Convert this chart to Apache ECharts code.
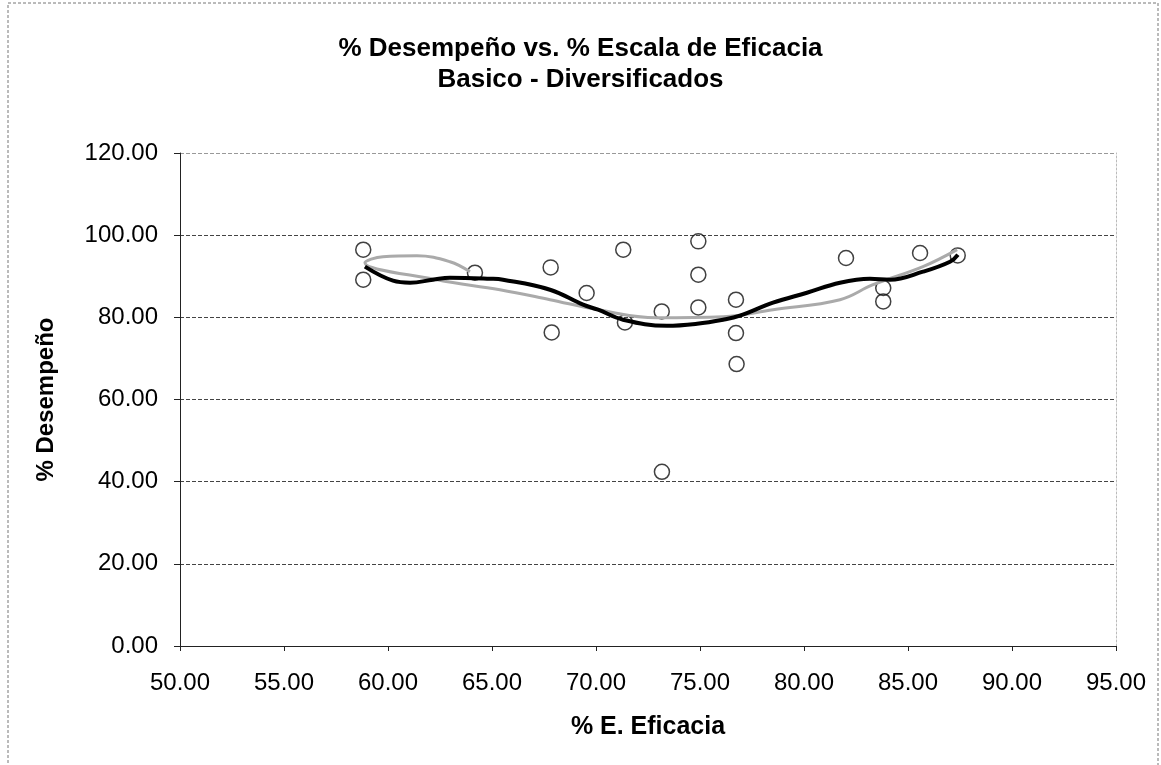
<!DOCTYPE html>
<html>
<head>
<meta charset="utf-8">
<script src="https://cdn.jsdelivr.net/npm/echarts@6/dist/echarts.min.js"></script>
<style>
html,body{margin:0;padding:0;background:#fff;}
#chart{width:1161px;height:765px;}
</style>
</head>
<body>
<div id="chart"></div>
<script>
// Scatter points: % E. Eficacia (x) vs % Desempeño (y)
const eficacia = [58.81, 58.81, 64.18, 67.82, 67.87, 69.55, 71.31, 71.39, 73.16, 73.17, 74.92, 74.92, 74.92, 76.73, 76.73, 76.76, 82.02, 83.81, 83.81, 85.58, 87.39];
const desempeno = [96.47, 89.16, 90.87, 92.16, 76.32, 85.92, 96.47, 78.76, 81.44, 42.4, 98.49, 90.38, 82.41, 84.29, 76.17, 68.62, 94.45, 87.14, 83.87, 95.66, 95.08];

// Black trend curve
const blackX = [58.89, 60.24, 61.06, 62.16, 62.98, 64.90, 65.53, 67.79, 69.38, 70.10, 71.30, 73.41, 74.86, 76.11, 76.92, 78.51, 80.14, 81.73, 83.17, 84.13, 85.72, 87.02, 87.40];
const blackY = [92.33, 88.92, 88.43, 89.16, 89.65, 89.40, 89.16, 86.72, 83.07, 81.85, 79.42, 77.95, 78.44, 79.42, 80.39, 83.56, 85.99, 88.43, 89.40, 89.16, 91.11, 93.54, 95.25];

// Grey trend curve (in drawn order)
const greyX = [63.94, 62.98, 61.39, 59.76, 58.89, 62.36, 65.38, 67.79, 70.10, 72.93, 76.11, 78.51, 81.73, 83.32, 85.72, 87.36];
const greyY = [91.11, 93.54, 95.00, 94.76, 93.30, 89.16, 86.72, 84.29, 81.85, 79.90, 80.15, 81.85, 84.29, 87.94, 92.33, 96.47];

const titleLines = ['% Desempeño vs. % Escala de Eficacia', 'Basico - Diversificados'];
const xName = '% E. Eficacia';
const yName = '% Desempeño';

const zip = (a, b) => a.map((v, i) => [v, b[i]]);
const FONT = '"Liberation Sans", Arial, sans-serif';

const chart = echarts.init(document.getElementById('chart'), null, {renderer: 'canvas'});
chart.setOption({
  backgroundColor: '#ffffff',
  animation: false,
  title: {
    text: titleLines.join('\n'),
    left: 'center',
    top: 28,
    textStyle: {fontFamily: FONT, fontSize: 26, fontWeight: 'bold', color: '#000', lineHeight: 31}
  },
  graphic: [{
    type: 'rect',
    shape: {x: 8, y: 3, width: 1150, height: 800},
    style: {fill: 'none', stroke: '#777', lineWidth: 1, lineDash: [3, 2]},
    silent: true
  }],
  grid: {left: 180, right: 45, top: 153, bottom: 119},
  xAxis: {
    type: 'value',
    min: 50, max: 95, interval: 5,
    name: xName,
    nameLocation: 'middle',
    nameGap: 69,
    nameTextStyle: {fontFamily: FONT, fontSize: 25, fontWeight: 'bold', color: '#000'},
    axisLine: {show: true, onZero: false, lineStyle: {color: '#222', width: 1}},
    axisTick: {show: true, inside: false, length: 5, lineStyle: {color: '#222'}},
    axisLabel: {fontFamily: FONT, fontSize: 24, color: '#000', margin: 25, formatter: v => v.toFixed(2)},
    splitLine: {show: false}
  },
  yAxis: [{
    type: 'value',
    min: 0, max: 120, interval: 20,
    name: yName,
    nameLocation: 'middle',
    nameGap: 122,
    nameRotate: 90,
    nameTextStyle: {fontFamily: FONT, fontSize: 24, fontWeight: 'bold', color: '#000'},
    axisLine: {show: true, onZero: false, lineStyle: {color: '#222', width: 1}},
    axisTick: {show: true, inside: false, length: 6, lineStyle: {color: '#222'}},
    axisLabel: {fontFamily: FONT, fontSize: 24, color: '#000', margin: 22, formatter: v => v.toFixed(2)},
    splitLine: {show: true, lineStyle: {color: ['#444', '#444', '#444', '#444', '#444', '#444', '#999'], width: 1, type: [4, 2]}}
  }, {
    type: 'value',
    min: 0, max: 120, interval: 20,
    position: 'right',
    axisLine: {show: true, onZero: false, lineStyle: {color: '#bbb', width: 1, type: [2, 2]}},
    axisTick: {show: false},
    axisLabel: {show: false},
    splitLine: {show: false}
  }],
  series: [{
    type: 'scatter',
    data: zip(eficacia, desempeno),
    symbol: 'circle',
    symbolSize: 15,
    itemStyle: {color: 'rgba(255,255,255,0)', borderColor: '#111', borderWidth: 1.5},
    z: 3
  }, {
    type: 'line',
    data: zip(greyX, greyY),
    smooth: 0.4,
    showSymbol: false,
    lineStyle: {color: '#aaaaaa', width: 3},
    z: 4
  }, {
    type: 'line',
    data: zip(blackX, blackY),
    smooth: 0.4,
    showSymbol: false,
    lineStyle: {color: '#000', width: 4},
    z: 5
  }]
});
</script>
</body>
</html>
